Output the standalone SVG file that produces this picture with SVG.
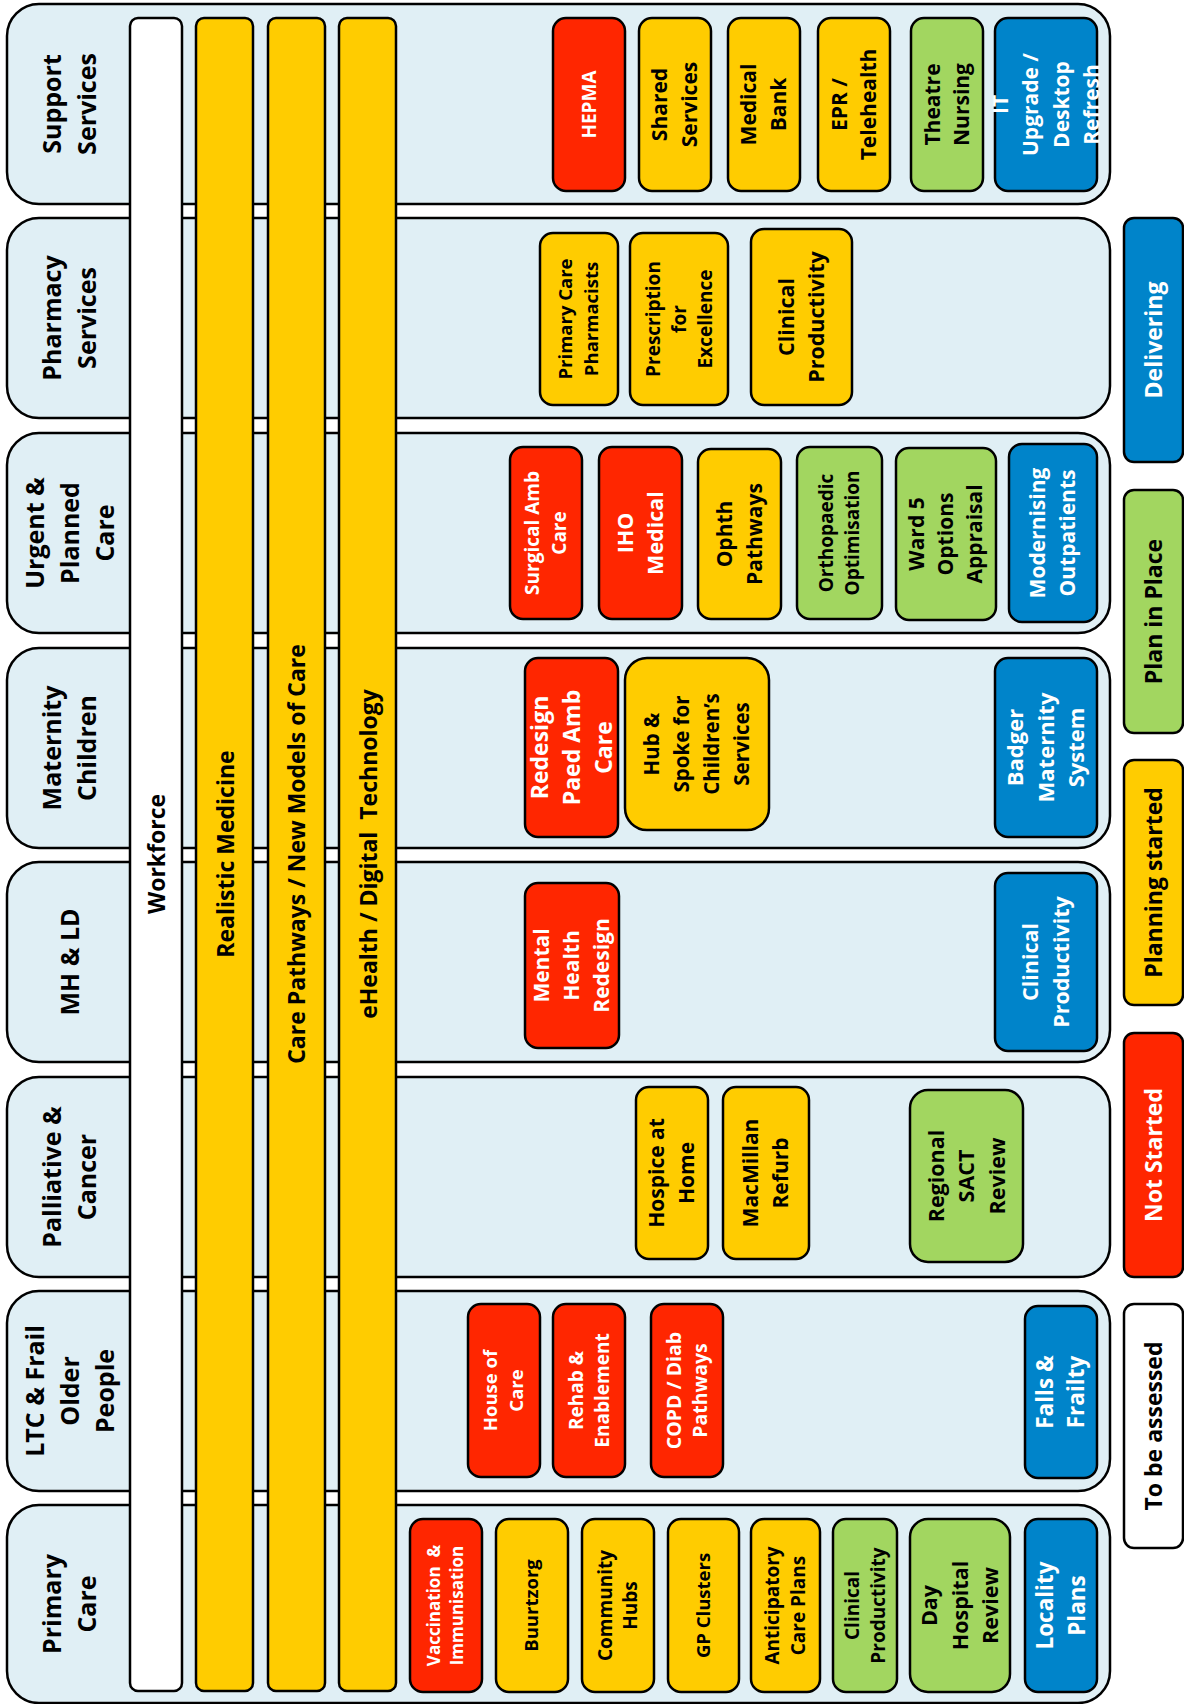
<svg xmlns="http://www.w3.org/2000/svg" width="1184" height="1704" viewBox="0 0 1184 1704">
<style>
.row{fill:#E0EFF5;stroke:#000;stroke-width:2.5}
.bar{stroke:#000;stroke-width:2.5}
.n{stroke:#000;stroke-width:2.5}
.red{fill:#FF2600}.yel{fill:#FFCC00}.grn{fill:#A2D660}.blu{fill:#0084CA}.wht{fill:#FFFFFF}
text{font-family:"Open Sans","Liberation Sans",sans-serif;font-weight:700;text-anchor:middle;fill:#000}
.tw{fill:#FFFFFF}
.rl{font-size:25px}
.bl{font-size:23px}
.lg{font-size:23px}
</style>
<rect width="1184" height="1704" fill="#FFFFFF"/>

<g id="rows">
<g id="row-support"><rect class="row" x="7" y="4" width="1103" height="200" rx="32"/>
<text class="rl" transform="translate(70,104) rotate(-90)"><tspan x="0" y="-8.75">Support</tspan><tspan x="0" y="26.25">Services</tspan></text></g>
<g id="row-pharmacy"><rect class="row" x="7" y="218" width="1103" height="200" rx="32"/>
<text class="rl" transform="translate(70,318) rotate(-90)"><tspan x="0" y="-8.75">Pharmacy</tspan><tspan x="0" y="26.25">Services</tspan></text></g>
<g id="row-urgent"><rect class="row" x="7" y="433" width="1103" height="200" rx="32"/>
<text class="rl" transform="translate(70,533) rotate(-90)"><tspan x="0" y="-26.25">Urgent &amp;</tspan><tspan x="0" y="8.75">Planned</tspan><tspan x="0" y="43.75">Care</tspan></text></g>
<g id="row-maternity"><rect class="row" x="7" y="648" width="1103" height="200" rx="32"/>
<text class="rl" transform="translate(70,748) rotate(-90)"><tspan x="0" y="-8.75">Maternity</tspan><tspan x="0" y="26.25">Children</tspan></text></g>
<g id="row-mhld"><rect class="row" x="7" y="862" width="1103" height="200" rx="32"/>
<text class="rl" transform="translate(70,962) rotate(-90)"><tspan x="0" y="8.75">MH &amp; LD</tspan></text></g>
<g id="row-palliative"><rect class="row" x="7" y="1077" width="1103" height="200" rx="32"/>
<text class="rl" transform="translate(70,1177) rotate(-90)"><tspan x="0" y="-8.75">Palliative &amp;</tspan><tspan x="0" y="26.25">Cancer</tspan></text></g>
<g id="row-ltc"><rect class="row" x="7" y="1291" width="1103" height="200" rx="32"/>
<text class="rl" transform="translate(70,1391) rotate(-90)"><tspan x="0" y="-26.25">LTC &amp; Frail</tspan><tspan x="0" y="8.75">Older</tspan><tspan x="0" y="43.75">People</tspan></text></g>
<g id="row-primary"><rect class="row" x="7" y="1505" width="1103" height="198" rx="32"/>
<text class="rl" transform="translate(70,1604) rotate(-90)"><tspan x="0" y="-8.75">Primary</tspan><tspan x="0" y="26.25">Care</tspan></text></g>
</g>

<g id="bars">
<g id="bar-workforce"><rect class="bar wht" x="130" y="18" width="52" height="1673" rx="8"/>
<text class="bl" transform="translate(157,854) rotate(-90)" y="8">Workforce</text></g>
<g id="bar-realistic"><rect class="bar yel" x="196" y="18" width="57" height="1673" rx="8"/>
<text class="bl" transform="translate(226,854) rotate(-90)" y="8">Realistic Medicine</text></g>
<g id="bar-pathways"><rect class="bar yel" x="268" y="18" width="57" height="1673" rx="8"/>
<text class="bl" transform="translate(297,854) rotate(-90)" y="8">Care Pathways / New Models of Care</text></g>
<g id="bar-ehealth"><rect class="bar yel" x="339" y="18" width="57" height="1673" rx="8"/>
<text class="bl" transform="translate(369,854) rotate(-90)" y="8">eHealth / Digital&#160; Technology</text></g>
</g>

<g id="nodes">
<!-- Support -->
<g id="n-hepma"><rect class="n red" x="553" y="18" width="72" height="173" rx="13"/>
<text class="tw" font-size="19" transform="translate(589,104.5) rotate(-90)"><tspan x="0" y="6.65">HEPMA</tspan></text></g>
<g id="n-shared"><rect class="n yel" x="639" y="18" width="72" height="173" rx="13"/>
<text font-size="21" transform="translate(675,104.5) rotate(-90)"><tspan x="0" y="-7.65">Shared</tspan><tspan x="0" y="22.35">Services</tspan></text></g>
<g id="n-medbank"><rect class="n yel" x="728" y="18" width="72" height="173" rx="13"/>
<text font-size="21" transform="translate(764,104.5) rotate(-90)"><tspan x="0" y="-7.65">Medical</tspan><tspan x="0" y="22.35">Bank</tspan></text></g>
<g id="n-epr"><rect class="n yel" x="818" y="18" width="72" height="173" rx="13"/>
<text font-size="21" transform="translate(854,104.5) rotate(-90)"><tspan x="0" y="-7.15">EPR /</tspan><tspan x="0" y="21.85">Telehealth</tspan></text></g>
<g id="n-theatre"><rect class="n grn" x="911" y="18" width="72" height="173" rx="13"/>
<text font-size="21" transform="translate(947,104.5) rotate(-90)"><tspan x="0" y="-7.15">Theatre</tspan><tspan x="0" y="21.85">Nursing</tspan></text></g>
<g id="n-it"><rect class="n blu" x="995" y="18" width="102" height="173" rx="13"/>
<text class="tw" font-size="21" transform="translate(1046,104.5) rotate(-90)"><tspan x="0" y="-38.4">IT</tspan><tspan x="0" y="-7.9">Upgrade /</tspan><tspan x="0" y="22.6">Desktop</tspan><tspan x="0" y="53.1">Refresh</tspan></text></g>

<!-- Pharmacy -->
<g id="n-pcp"><rect class="n yel" x="540" y="233" width="78" height="172" rx="13"/>
<text font-size="18.5" transform="translate(579,319) rotate(-90)"><tspan x="0" y="-6.525">Primary Care</tspan><tspan x="0" y="19.475">Pharmacists</tspan></text></g>
<g id="n-prescription"><rect class="n yel" x="630" y="233" width="98" height="172" rx="13"/>
<text font-size="19" transform="translate(679,319) rotate(-90)"><tspan x="0" y="-19.35">Prescription</tspan><tspan x="0" y="6.65">for</tspan><tspan x="0" y="32.65">Excellence</tspan></text></g>
<g id="n-clinprod-ph"><rect class="n yel" x="751" y="229" width="101" height="176" rx="13"/>
<text font-size="21.5" transform="translate(801.5,317) rotate(-90)"><tspan x="0" y="-7.475">Clinical</tspan><tspan x="0" y="22.525">Productivity</tspan></text></g>

<!-- Urgent & Planned -->
<g id="n-surgical"><rect class="n red" x="510" y="447" width="72" height="172" rx="13"/>
<text class="tw" font-size="19" transform="translate(546,533) rotate(-90)"><tspan x="0" y="-6.85">Surgical Amb</tspan><tspan x="0" y="20.15">Care</tspan></text></g>
<g id="n-iho"><rect class="n red" x="599" y="447" width="83" height="172" rx="13"/>
<text class="tw" font-size="21.5" transform="translate(640.5,533) rotate(-90)"><tspan x="0" y="-7.475">IHO</tspan><tspan x="0" y="22.525">Medical</tspan></text></g>
<g id="n-ophth"><rect class="n yel" x="698" y="449" width="83" height="170" rx="13"/>
<text font-size="21" transform="translate(739.5,534) rotate(-90)"><tspan x="0" y="-7.65">Ophth</tspan><tspan x="0" y="22.35">Pathways</tspan></text></g>
<g id="n-ortho"><rect class="n grn" x="797" y="447" width="85" height="172" rx="13"/>
<text font-size="19" transform="translate(839.5,533) rotate(-90)"><tspan x="0" y="-6.35">Orthopaedic</tspan><tspan x="0" y="19.65">Optimisation</tspan></text></g>
<g id="n-ward5"><rect class="n grn" x="896" y="448" width="100" height="172" rx="13"/>
<text font-size="21" transform="translate(946,534) rotate(-90)"><tspan x="0" y="-21.65">Ward 5</tspan><tspan x="0" y="7.35">Options</tspan><tspan x="0" y="36.35">Appraisal</tspan></text></g>
<g id="n-outpatients"><rect class="n blu" x="1009" y="444" width="88" height="178" rx="13"/>
<text class="tw" font-size="21" transform="translate(1053,533) rotate(-90)"><tspan x="0" y="-7.65">Modernising</tspan><tspan x="0" y="22.35">Outpatients</tspan></text></g>

<!-- Maternity -->
<g id="n-paed"><rect class="n red" x="525" y="658" width="93" height="179" rx="13"/>
<text class="tw" font-size="23" transform="translate(571.5,747.5) rotate(-90)"><tspan x="0" y="-23.95">Redesign</tspan><tspan x="0" y="8.05">Paed Amb</tspan><tspan x="0" y="40.05">Care</tspan></text></g>
<g id="n-hub"><rect class="n yel" x="625" y="658" width="144" height="172" rx="22"/>
<text font-size="20.5" transform="translate(697,744) rotate(-90)"><tspan x="0" y="-37.825">Hub &amp;</tspan><tspan x="0" y="-7.825">Spoke for</tspan><tspan x="0" y="22.175">Children’s</tspan><tspan x="0" y="52.175">Services</tspan></text></g>
<g id="n-badger"><rect class="n blu" x="995" y="658" width="102" height="179" rx="13"/>
<text class="tw" font-size="22" transform="translate(1046,747.5) rotate(-90)"><tspan x="0" y="-22.8">Badger</tspan><tspan x="0" y="7.7">Maternity</tspan><tspan x="0" y="38.2">System</tspan></text></g>

<!-- MH & LD -->
<g id="n-mental"><rect class="n red" x="525" y="883" width="94" height="165" rx="13"/>
<text class="tw" font-size="21" transform="translate(572,965.5) rotate(-90)"><tspan x="0" y="-22.65">Mental</tspan><tspan x="0" y="7.35">Health</tspan><tspan x="0" y="37.35">Redesign</tspan></text></g>
<g id="n-clinprod-mh"><rect class="n blu" x="995" y="873" width="102" height="178" rx="13"/>
<text class="tw" font-size="21.5" transform="translate(1046,962) rotate(-90)"><tspan x="0" y="-7.975">Clinical</tspan><tspan x="0" y="23.025">Productivity</tspan></text></g>

<!-- Palliative -->
<g id="n-hospice"><rect class="n yel" x="636" y="1087" width="72" height="172" rx="13"/>
<text font-size="21" transform="translate(672,1173) rotate(-90)"><tspan x="0" y="-7.65">Hospice at</tspan><tspan x="0" y="22.35">Home</tspan></text></g>
<g id="n-macmillan"><rect class="n yel" x="723" y="1087" width="86" height="172" rx="13"/>
<text font-size="21" transform="translate(766,1173) rotate(-90)"><tspan x="0" y="-7.65">MacMillan</tspan><tspan x="0" y="22.35">Refurb</tspan></text></g>
<g id="n-sact"><rect class="n grn" x="910" y="1090" width="113" height="172" rx="18"/>
<text font-size="21.5" transform="translate(966.5,1176) rotate(-90)"><tspan x="0" y="-22.975">Regional</tspan><tspan x="0" y="7.525">SACT</tspan><tspan x="0" y="38.025">Review</tspan></text></g>

<!-- LTC -->
<g id="n-house"><rect class="n red" x="468" y="1304" width="72" height="173" rx="13"/>
<text class="tw" font-size="18.5" transform="translate(504,1390.5) rotate(-90)"><tspan x="0" y="-6.525">House of</tspan><tspan x="0" y="19.475">Care</tspan></text></g>
<g id="n-rehab"><rect class="n red" x="553" y="1304" width="72" height="173" rx="13"/>
<text class="tw" font-size="19" transform="translate(589,1390.5) rotate(-90)"><tspan x="0" y="-6.35">Rehab &amp;</tspan><tspan x="0" y="19.65">Enablement</tspan></text></g>
<g id="n-copd"><rect class="n red" x="651" y="1304" width="72" height="173" rx="13"/>
<text class="tw" font-size="19.5" transform="translate(687,1390.5) rotate(-90)"><tspan x="0" y="-6.175">COPD / Diab</tspan><tspan x="0" y="19.825">Pathways</tspan></text></g>
<g id="n-falls"><rect class="n blu" x="1025" y="1306" width="72" height="172" rx="13"/>
<text class="tw" font-size="22.5" transform="translate(1061,1392) rotate(-90)"><tspan x="0" y="-7.625">Falls &amp;</tspan><tspan x="0" y="23.375">Frailty</tspan></text></g>

<!-- Primary -->
<g id="n-vacc"><rect class="n red" x="410" y="1519" width="72" height="173" rx="13"/>
<text class="tw" font-size="17" transform="translate(446,1605.5) rotate(-90)"><tspan x="0" y="-5.55">Vaccination&#160; &amp;</tspan><tspan x="0" y="17.45">Immunisation</tspan></text></g>
<g id="n-buurtzorg"><rect class="n yel" x="496" y="1519" width="72" height="173" rx="13"/>
<text font-size="18.5" transform="translate(532,1605.5) rotate(-90)"><tspan x="0" y="6.475">Buurtzorg</tspan></text></g>
<g id="n-hubs"><rect class="n yel" x="582" y="1519" width="72" height="173" rx="13"/>
<text font-size="19" transform="translate(618,1605.5) rotate(-90)"><tspan x="0" y="-5.85">Community</tspan><tspan x="0" y="19.15">Hubs</tspan></text></g>
<g id="n-gp"><rect class="n yel" x="668" y="1519" width="71" height="173" rx="13"/>
<text font-size="18.5" transform="translate(703.5,1605.5) rotate(-90)"><tspan x="0" y="6.475">GP Clusters</tspan></text></g>
<g id="n-acp"><rect class="n yel" x="751" y="1519" width="69" height="173" rx="13"/>
<text font-size="19" transform="translate(785.5,1605.5) rotate(-90)"><tspan x="0" y="-6.35">Anticipatory</tspan><tspan x="0" y="19.65">Care Plans</tspan></text></g>
<g id="n-clinprod-pc"><rect class="n grn" x="833" y="1519" width="64" height="173" rx="13"/>
<text font-size="19" transform="translate(865,1605.5) rotate(-90)"><tspan x="0" y="-6.35">Clinical</tspan><tspan x="0" y="19.65">Productivity</tspan></text></g>
<g id="n-dayhosp"><rect class="n grn" x="910" y="1519" width="100" height="173" rx="18"/>
<text font-size="21.5" transform="translate(960,1605.5) rotate(-90)"><tspan x="0" y="-22.975">Day</tspan><tspan x="0" y="7.525">Hospital</tspan><tspan x="0" y="38.025">Review</tspan></text></g>
<g id="n-locality"><rect class="n blu" x="1025" y="1519" width="72" height="173" rx="13"/>
<text class="tw" font-size="22.5" transform="translate(1061,1605.5) rotate(-90)"><tspan x="0" y="-8.125">Locality</tspan><tspan x="0" y="23.875">Plans</tspan></text></g>
</g>

<g id="legend">
<g id="lg-delivering"><rect class="n blu" x="1124" y="218" width="59" height="244" rx="10"/>
<text class="lg tw" transform="translate(1153.5,340) rotate(-90)" y="8.05">Delivering</text></g>
<g id="lg-plan"><rect class="n grn" x="1124" y="490" width="59" height="243" rx="10"/>
<text class="lg" transform="translate(1153.5,611.5) rotate(-90)" y="8.05">Plan in Place</text></g>
<g id="lg-planning"><rect class="n yel" x="1124" y="760" width="59" height="245" rx="10"/>
<text class="lg" transform="translate(1153.5,882.5) rotate(-90)" y="8.05">Planning started</text></g>
<g id="lg-notstarted"><rect class="n red" x="1124" y="1033" width="59" height="244" rx="10"/>
<text class="lg tw" transform="translate(1153.5,1155) rotate(-90)" y="8.05">Not Started</text></g>
<g id="lg-assess"><rect class="n wht" x="1124" y="1304" width="59" height="244" rx="10"/>
<text class="lg" transform="translate(1153.5,1426) rotate(-90)" y="8.05">To be assessed</text></g>
</g>
</svg>
